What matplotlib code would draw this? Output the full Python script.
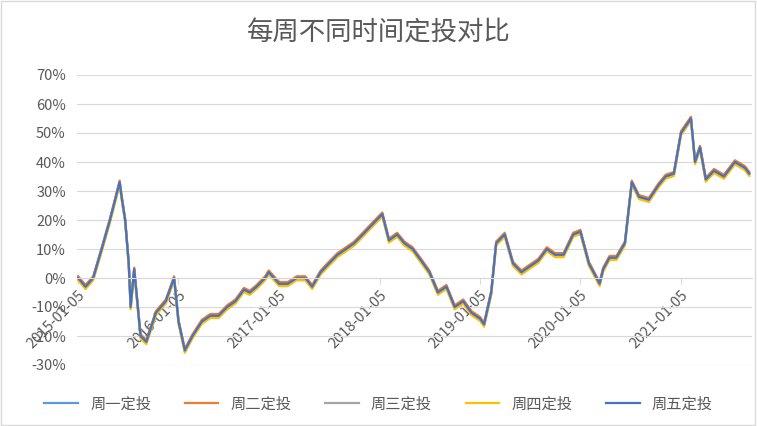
import numpy as np
import pandas as pd
import matplotlib.pyplot as plt
import matplotlib.dates as mdates
from matplotlib.ticker import FuncFormatter

plt.rcParams['font.family'] = ['Noto Sans CJK SC', 'DejaVu Sans']

dates = ['2015-01-05', '2015-02-01', '2015-03-01', '2015-04-01', '2015-05-01', '2015-05-20',
         '2015-06-05', '2015-06-12', '2015-06-25', '2015-07-08', '2015-07-15', '2015-07-28',
         '2015-08-20', '2015-09-10', '2015-10-15', '2015-11-20', '2015-12-20', '2016-01-05',
         '2016-01-28', '2016-02-25', '2016-03-30', '2016-04-30', '2016-05-30', '2016-06-30',
         '2016-07-30', '2016-08-30', '2016-09-20', '2016-10-15', '2016-11-15', '2016-11-28',
         '2017-01-05', '2017-02-05', '2017-03-10', '2017-04-10', '2017-05-05', '2017-06-05',
         '2017-07-05', '2017-08-05', '2017-09-05', '2017-10-05', '2017-11-05', '2017-12-05',
         '2018-01-15', '2018-02-08', '2018-03-10', '2018-04-05', '2018-05-05', '2018-06-05',
         '2018-07-05', '2018-08-05', '2018-09-05', '2018-10-05', '2018-11-05', '2018-12-05',
         '2019-01-05', '2019-01-20', '2019-02-15', '2019-03-05', '2019-04-05', '2019-05-05',
         '2019-06-05', '2019-07-05', '2019-08-05', '2019-09-05', '2019-10-05', '2019-11-05',
         '2019-12-10', '2020-01-05', '2020-02-05', '2020-03-15', '2020-03-28', '2020-04-20',
         '2020-05-15', '2020-06-15', '2020-07-10', '2020-08-05', '2020-09-10', '2020-10-15',
         '2020-11-10', '2020-12-10', '2021-01-05', '2021-02-10', '2021-02-25', '2021-03-15',
         '2021-04-05', '2021-05-05', '2021-06-10', '2021-07-20', '2021-08-25', '2021-09-10']
base = [0, -3, 0, 10, 20, 27, 33, 28, 20, 5, -10, 3, -20, -22, -12, -8, 0, -15,
        -25, -20, -15, -13, -13, -10, -8, -4, -5, -3, 0, 2,
        -2, -2, 0, 0, -3, 2, 5, 8, 10, 12, 15, 18,
        22, 13, 15, 12, 10, 6, 2, -5, -3, -10, -8, -12,
        -14, -16, -5, 12, 15, 5, 2, 4, 6, 10, 8, 8,
        15, 16, 5, -2, 3, 7, 7, 12, 33, 28, 27, 32,
        35, 36, 50, 55, 40, 45, 34, 37, 35, 40, 38, 36]
names = ['周一定投', '周二定投', '周三定投', '周四定投', '周五定投']
offsets = [0.3, 0.6, -0.4, -0.8, 0.0]
colors = ['#5B9BD5', '#ED7D31', '#A5A5A5', '#FFC000', '#4472C4']
xticks = ['2015-01-05', '2016-01-05', '2017-01-05', '2018-01-05', '2019-01-05',
          '2020-01-05', '2021-01-05']

x = pd.to_datetime(dates)
fig = plt.figure(figsize=(7.57, 4.26), dpi=100)
fig.patches.append(plt.Rectangle((0.001, 0.002), 0.997, 0.996, transform=fig.transFigure,
                                 fill=False, edgecolor='#D9D9D9', lw=1))
ax = fig.add_axes([77 / 757, 1 - 365 / 426, 675 / 757, 290 / 426])
for name, off, c in zip(names, offsets, colors):
    ax.plot(x, np.array(base) + off, color=c, lw=1.6, label=name)

ax.set_ylim(-30, 70)
ax.set_yticks(range(-30, 71, 10))
ax.yaxis.set_major_formatter(FuncFormatter(lambda v, p: '%d%%' % v))
ax.set_xlim(pd.Timestamp('2015-01-01'), pd.Timestamp('2021-09-20'))
ax.set_xticks(pd.to_datetime(xticks))
ax.xaxis.set_major_formatter(mdates.DateFormatter('%Y-%m-%d'))
for s in ['top', 'right', 'left']:
    ax.spines[s].set_visible(False)
ax.spines['bottom'].set_position(('data', 0))
ax.spines['bottom'].set_color('#D9D9D9')
ax.grid(axis='y', color='#D9D9D9', lw=0.8)
ax.set_axisbelow(True)
ax.tick_params(axis='y', length=0, labelsize=10.5, labelcolor='#595959', pad=8)
ax.tick_params(axis='x', length=4, color='#D9D9D9', labelsize=10.5, labelcolor='#595959')
for lab in ax.get_xticklabels():
    lab.set_rotation(45)
    lab.set_ha('right')
    lab.set_va('top')
    lab.set_rotation_mode('anchor')

fig.suptitle('每周不同时间定投对比', y=0.955, fontsize=19, color='#595959')
fig.legend(loc='lower center', ncol=5, frameon=False, fontsize=11,
           bbox_to_anchor=(0.5, 0.0), handlelength=2.2, columnspacing=2.2,
           labelcolor='#595959')
fig.savefig('out.png', dpi=100)
